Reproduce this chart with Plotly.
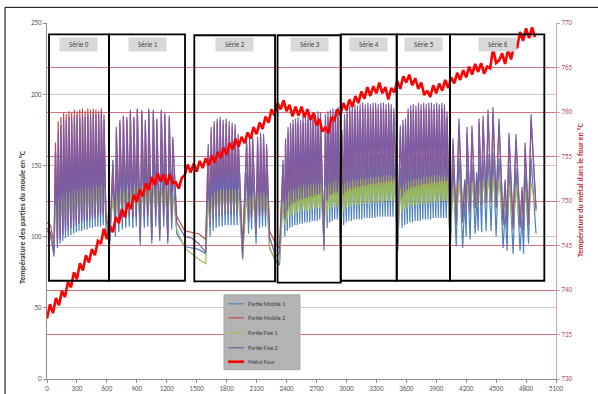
import plotly.graph_objects as go

# ---------------- mould temperatures (°C, left axis) ----------------
t_moule = [
    0, 35, 70,
    85, 105, 112, 132, 139, 159, 166, 186, 193, 213, 220, 240, 247, 267, 274, 294, 301, 321,
    328, 348, 355, 375, 382, 402, 409, 429, 436, 456, 463, 483, 490, 510, 517, 537, 544, 564, 571, 591, 630,
    660, 685, 695, 720, 730, 755, 765, 790, 800, 825, 835, 860, 870, 895, 905, 935, 950, 975, 985, 1010,
    1020, 1050, 1065, 1090, 1100, 1130, 1145, 1170, 1180, 1210, 1225, 1250, 1260,
    1300, 1380, 1450, 1520, 1590,
    1615, 1635, 1645, 1665, 1675, 1695, 1705, 1725, 1735, 1755, 1765, 1785, 1795, 1815, 1825, 1845,
    1855, 1875, 1885, 1905, 1915, 1960,
    2000, 2020, 2030, 2050, 2060, 2095, 2110, 2130, 2140, 2160, 2170, 2190, 2200, 2230, 2290, 2330,
    2365, 2383, 2390, 2408, 2415, 2433, 2440, 2458, 2465, 2483, 2490, 2508, 2515, 2533, 2540, 2558,
    2565, 2583, 2590, 2608, 2615, 2633, 2640, 2658, 2665, 2683, 2690, 2708, 2715, 2733, 2740, 2775,
    2790, 2808, 2815, 2833, 2840, 2858, 2865, 2883, 2890, 2908, 2915, 2940,
    2955, 2973, 2981, 2999, 3007, 3025, 3033, 3051, 3059, 3077, 3085, 3103, 3111, 3129, 3137, 3155,
    3163, 3181, 3189, 3207, 3215, 3233, 3241, 3259, 3267, 3285, 3293, 3311, 3319, 3337, 3345, 3363,
    3371, 3389, 3397, 3415, 3423, 3441, 3449, 3467, 3475, 3515,
    3540, 3558, 3566, 3584, 3592, 3610, 3618, 3636, 3644, 3662, 3670, 3688, 3696, 3714, 3722, 3740,
    3748, 3766, 3774, 3792, 3800, 3818, 3826, 3844, 3852, 3870, 3878, 3896, 3904, 3922, 3930, 3948,
    3956, 3974, 3982, 4000, 4008, 4040,
    4068, 4100, 4128, 4165, 4185, 4200, 4208, 4240, 4258, 4290, 4305, 4320, 4329, 4355, 4369, 4400,
    4419, 4450, 4469, 4500, 4529, 4570, 4590, 4610, 4629, 4670, 4699, 4740, 4760, 4775, 4790, 4825,
    4850, 4900,
]

partie_mobile_1 = [
    104, 102, 86,
    140, 92, 148, 95, 152, 97, 154, 99, 155, 100, 156, 101, 156, 102, 157, 103, 157, 104,
    158, 104, 158, 105, 158, 105, 159, 106, 159, 106, 159, 107, 160, 107, 160, 107, 160, 108, 158, 106, 95,
    140, 100, 150, 103, 154, 105, 156, 106, 156, 107, 158, 106, 157, 107, 159, 94, 158, 106, 156, 107,
    159, 95, 158, 107, 156, 97, 158, 107, 157, 95, 156, 105, 148,
    102, 93, 92, 91, 88,
    140, 100, 148, 104, 151, 106, 152, 107, 153, 107, 153, 108, 153, 108, 152, 108,
    152, 108, 151, 108, 148, 84,
    145, 102, 146, 105, 147, 95, 147, 106, 148, 107, 148, 107, 144, 92, 83, 80,
    138, 100, 145, 104, 148, 106, 150, 107, 151, 108, 152, 108, 152, 109, 153, 109,
    153, 110, 154, 110, 154, 110, 154, 111, 155, 111, 155, 111, 155, 112, 155, 90,
    150, 106, 153, 110, 154, 111, 155, 112, 155, 112, 155, 92,
    150, 108, 153, 110, 155, 111, 155, 111, 156, 112, 156, 112, 156, 112, 157, 112,
    157, 113, 157, 113, 157, 113, 158, 113, 158, 113, 158, 114, 158, 114, 158, 114,
    158, 114, 158, 114, 158, 114, 158, 114, 155, 90,
    148, 106, 152, 108, 153, 109, 154, 110, 155, 110, 156, 111, 156, 111, 156, 111,
    157, 112, 157, 112, 157, 112, 157, 112, 158, 113, 158, 113, 158, 113, 158, 113,
    158, 113, 158, 113, 155, 90,
    150, 93, 155, 92, 125, 100, 150, 98, 152, 102, 128, 104, 155, 103, 156, 104,
    158, 104, 159, 100, 155, 92, 118, 90, 150, 88, 148, 90, 115, 88, 145, 95,
    155, 102,
]

partie_mobile_2 = [
    110, 108, 95,
    166, 100, 181, 103, 184, 106, 187, 108, 186, 109, 188, 110, 187, 111, 189, 112, 188, 112,
    189, 113, 190, 114, 188, 114, 190, 115, 189, 115, 190, 116, 189, 116, 188, 117, 190, 117, 186, 115, 102,
    150, 108, 174, 112, 180, 114, 184, 115, 182, 116, 187, 115, 183, 116, 189, 101, 187, 115, 180, 116,
    188, 102, 188, 116, 181, 104, 188, 116, 185, 101, 183, 114, 168,
    114, 104, 103, 102, 98,
    160, 111, 173, 115, 178, 117, 180, 118, 181, 118, 179, 119, 180, 119, 178, 119,
    177, 119, 176, 119, 168, 92,
    165, 113, 166, 116, 168, 105, 167, 117, 170, 118, 169, 118, 162, 104, 95, 92,
    150, 110, 165, 116, 173, 119, 176, 121, 178, 122, 179, 123, 180, 124, 178, 124,
    181, 125, 180, 125, 182, 126, 181, 126, 183, 127, 182, 127, 184, 128, 183, 97,
    182, 123, 184, 127, 185, 128, 186, 129, 185, 129, 187, 103,
    171, 128, 182, 130, 186, 131, 188, 132, 188, 132, 189, 133, 188, 133, 189, 134,
    190, 134, 189, 134, 190, 135, 189, 135, 190, 135, 190, 136, 189, 136, 190, 136,
    190, 136, 189, 137, 190, 137, 189, 137, 186, 98,
    174, 126, 178, 129, 179, 131, 186, 132, 188, 133, 189, 133, 188, 134, 190, 134,
    189, 135, 190, 135, 189, 135, 190, 136, 190, 136, 189, 136, 190, 136, 189, 137,
    190, 137, 189, 137, 184, 98,
    165, 112, 178, 114, 138, 120, 172, 118, 174, 122, 140, 124, 180, 124, 181, 125,
    185, 126, 187, 122, 179, 112, 138, 110, 169, 110, 168, 110, 132, 108, 162, 112,
    182, 118,
]

partie_fixe_1 = [
    100, 99, 92,
    122, 104, 127, 108, 129, 110, 130, 112, 131, 113, 132, 114, 132, 115, 133, 116, 133, 116,
    134, 117, 134, 117, 134, 118, 135, 118, 135, 119, 135, 119, 136, 119, 136, 120, 136, 120, 135, 119, 107,
    125, 110, 130, 114, 132, 116, 133, 117, 133, 117, 134, 117, 134, 118, 135, 108, 135, 117, 134, 118,
    135, 108, 135, 118, 134, 110, 135, 118, 135, 108, 134, 116, 130,
    105, 92, 88, 84, 81,
    124, 110, 129, 114, 131, 115, 132, 116, 133, 117, 133, 117, 133, 118, 133, 118,
    133, 118, 133, 118, 131, 88,
    127, 112, 129, 115, 130, 105, 130, 116, 131, 117, 131, 117, 129, 92, 84, 82,
    125, 108, 130, 112, 132, 114, 133, 115, 134, 116, 134, 117, 135, 117, 135, 118,
    136, 118, 136, 118, 136, 119, 137, 119, 137, 119, 137, 120, 138, 120, 138, 96,
    135, 115, 137, 119, 138, 120, 138, 121, 139, 121, 139, 98,
    136, 118, 138, 120, 139, 121, 139, 121, 140, 122, 140, 122, 140, 122, 141, 123,
    141, 123, 141, 123, 141, 123, 142, 124, 142, 124, 142, 124, 142, 124, 142, 124,
    143, 125, 143, 125, 143, 125, 143, 125, 142, 95,
    134, 116, 137, 119, 138, 120, 139, 121, 140, 121, 140, 122, 141, 122, 141, 123,
    141, 123, 142, 123, 142, 123, 142, 124, 142, 124, 143, 124, 143, 124, 143, 125,
    143, 125, 143, 125, 142, 95,
    135, 112, 138, 115, 132, 118, 137, 118, 138, 120, 135, 121, 139, 122, 140, 122,
    141, 123, 141, 120, 139, 110, 130, 106, 136, 106, 135, 108, 128, 105, 133, 110,
    138, 118,
]

partie_fixe_2 = [
    106, 103, 88,
    160, 95, 172, 98, 178, 101, 181, 103, 182, 104, 184, 106, 181, 107, 184, 108, 185, 109,
    183, 110, 186, 111, 184, 111, 186, 112, 185, 113, 187, 113, 186, 114, 185, 114, 188, 115, 182, 112, 97,
    154, 105, 177, 110, 182, 112, 185, 113, 184, 114, 189, 113, 184, 114, 190, 97, 189, 113, 182, 114,
    190, 98, 189, 114, 183, 100, 189, 114, 187, 97, 185, 112, 170,
    110, 100, 99, 95, 89,
    165, 108, 177, 112, 181, 114, 183, 115, 184, 115, 182, 116, 183, 116, 181, 116,
    180, 116, 179, 116, 172, 86,
    169, 110, 169, 113, 171, 102, 170, 114, 173, 115, 172, 115, 165, 100, 86, 88,
    154, 112, 169, 118, 177, 121, 180, 123, 182, 124, 183, 125, 184, 126, 182, 126,
    185, 127, 184, 127, 186, 128, 185, 128, 187, 129, 186, 129, 188, 130, 187, 94,
    186, 125, 188, 129, 189, 130, 190, 131, 189, 131, 191, 100,
    175, 130, 186, 132, 190, 133, 192, 134, 192, 134, 193, 135, 192, 135, 193, 136,
    194, 136, 193, 136, 194, 137, 193, 137, 194, 137, 194, 138, 193, 138, 194, 138,
    194, 138, 193, 139, 194, 139, 193, 139, 190, 93,
    178, 128, 182, 131, 183, 133, 190, 134, 192, 135, 193, 135, 192, 136, 194, 136,
    193, 137, 194, 137, 193, 137, 194, 138, 194, 138, 193, 138, 194, 138, 193, 139,
    194, 139, 193, 139, 188, 93,
    169, 108, 183, 110, 140, 118, 177, 115, 178, 120, 145, 122, 183, 122, 185, 123,
    189, 124, 191, 120, 183, 108, 140, 105, 173, 105, 172, 106, 135, 104, 166, 108,
    186, 120,
]

# ---------------- furnace metal temperature (°C, right axis), one reading every 30 s ----------------
t_four = list(range(0, 4900, 30))
metal_four = [
    736.8, 738.4, 737.4, 739.1, 738.3, 739.9, 739.2, 740.9, 740.3, 742.0,
    741.2, 743.0, 742.2, 743.9, 743.1, 744.6, 743.9, 745.5, 745.2, 746.9,
    745.7, 747.2, 746.5, 748.2, 747.5, 749.1, 748.2, 749.8, 749.1, 750.7,
    749.9, 751.3, 750.5, 752.0, 751.2, 752.7, 751.8, 753.1, 752.2, 753.0,
    751.8, 753.0, 752.0, 752.1, 751.4, 752.6, 752.9, 754.1, 753.2, 754.2,
    753.3, 754.5, 753.7, 754.8, 754.0, 755.1, 754.3, 755.5, 754.8, 756.0,
    755.2, 756.5, 755.8, 757.0, 756.1, 757.2, 756.5, 757.7, 757.0, 758.3,
    757.5, 758.8, 758.1, 759.5, 758.8, 760.3, 759.6, 761.0, 760.3, 761.3,
    760.1, 760.8, 759.5, 760.6, 759.6, 760.6, 759.4, 760.3, 759.1, 759.9,
    758.5, 759.2, 757.8, 758.3, 757.6, 759.4, 759.1, 760.3, 759.7, 761.0,
    760.2, 761.4, 760.6, 761.8, 761.0, 762.3, 761.5, 762.8, 761.8, 762.9,
    762.1, 763.3, 762.1, 762.8, 761.4, 762.7, 762.2, 763.5, 762.6, 764.0,
    763.3, 764.2, 763.0, 763.8, 762.6, 763.3, 761.9, 762.4, 761.7, 763.0,
    762.1, 763.2, 762.4, 763.6, 762.7, 763.9, 763.2, 764.4, 763.6, 764.7,
    763.9, 765.1, 764.2, 765.4, 764.5, 765.5, 764.3, 765.1, 764.9, 767.1,
    765.5, 765.8, 766.6, 765.4, 767.0, 765.9, 767.5, 767.2, 769.0, 768.0,
    769.4, 768.3, 769.5, 768.4,
]

# ---------------- production series (boxes) ----------------
serie_noms = ["Série 0", "Série 1", "Série 2", "Série 3", "Série 4", "Série 5", "Série 6"]
serie_debut = [20, 621, 1476, 2310, 2943, 3504, 4038]
serie_fin = [621, 1383, 2285, 2943, 3504, 4038, 4983]
serie_bas = [69, 69, 68.5, 67.7, 69, 69, 69]
serie_haut = [242, 242, 241.4, 241.4, 242, 242, 242]

legende_noms = ["Partie Mobile 1", "Partie Mobile 2", "Partie Fixe 1", "Partie Fixe 2", "Métal Four"]

x_ticks = list(range(0, 5101, 300))
y_ticks = [0, 50, 100, 150, 200, 250]
y2_ticks = [730, 735, 740, 745, 750, 755, 760, 765, 770]

n = len(t_moule)
for s in (partie_mobile_1, partie_mobile_2, partie_fixe_1, partie_fixe_2):
    assert len(s) == n, (len(s), n)
assert len(metal_four) == len(t_four), (len(metal_four), len(t_four))

FONT = "Carlito, 'Liberation Sans Narrow', 'Liberation Sans', Arial, sans-serif"
couleurs = ["#4F81BD", "#C0504D", "#9BBB59", "#7A5CA8", "#FF0000"]
largeurs = [1.2, 1.2, 1.2, 1.2, 2.6]

fig = go.Figure()
for name, vals, color, w in zip(legende_noms[:4],
                                [partie_mobile_1, partie_mobile_2, partie_fixe_1, partie_fixe_2],
                                couleurs[:4], largeurs[:4]):
    fig.add_trace(go.Scatter(x=t_moule, y=vals, mode="lines", name=name,
                             line=dict(color=color, width=w)))
fig.add_trace(go.Scatter(x=t_four, y=metal_four, mode="lines", name=legende_noms[4],
                         yaxis="y2", line=dict(color=couleurs[4], width=largeurs[4])))

shapes = []
annotations = []
for nom, x0, x1, y0, y1 in zip(serie_noms, serie_debut, serie_fin, serie_bas, serie_haut):
    shapes.append(dict(type="rect", xref="x", yref="y", x0=x0, x1=x1, y0=y0, y1=y1,
                       line=dict(color="#000000", width=1.8), layer="above"))
    annotations.append(dict(x=(x0 + x1) / 2, y=235, xref="x", yref="y",
                            text="\u2003" + nom + "\u2003",
                            showarrow=False, bgcolor="#d9d9d9", borderpad=2,
                            font=dict(size=7, color="#404040", family=FONT)))

# chart frame (left and top edges visible)
shapes.append(dict(type="line", xref="paper", yref="paper", x0=-0.0825, x1=-0.0825,
                   y0=-0.2, y1=1.044, line=dict(color="#000000", width=1)))
shapes.append(dict(type="line", xref="paper", yref="paper", x0=-0.0825, x1=1.2,
                   y0=1.044, y1=1.044, line=dict(color="#000000", width=1)))

# legend box (drawn by hand so its rows are as compact as the original)
shapes.append(dict(type="rect", xref="paper", yref="paper", x0=0.3477, x1=0.497,
                   y0=0.026, y1=0.2364, fillcolor="#b3b3b3",
                   line=dict(color="#a6a6a6", width=1), layer="above"))
legende_y = [0.2112, 0.1719, 0.1298, 0.0878, 0.0485]
for nom, yy, c, w in zip(legende_noms, legende_y, couleurs, largeurs):
    shapes.append(dict(type="line", xref="paper", yref="paper", x0=0.3556, x1=0.387,
                       y0=yy, y1=yy, line=dict(color=c, width=w), layer="above"))
    annotations.append(dict(x=0.391, y=yy, xref="paper", yref="paper", text=nom,
                            xanchor="left", yanchor="middle", showarrow=False,
                            font=dict(size=6, color="#404040", family=FONT)))

annotations.append(dict(x=-0.063, y=0.455, xref="paper", yref="paper",
                        text="<b>Température des parties du moule en °C</b>", textangle=-90,
                        showarrow=False, font=dict(size=8, color="#404040", family=FONT)))
annotations.append(dict(x=1.061, y=0.531, xref="paper", yref="paper",
                        text="<b>Température du métal dans le four en °C</b>", textangle=-90,
                        showarrow=False, font=dict(size=8, color="#C0303A", family=FONT)))

fig.update_layout(
    width=598, height=394,
    margin=dict(l=47, r=42, t=23, b=15, autoexpand=False),
    paper_bgcolor="white", plot_bgcolor="white",
    font=dict(family=FONT, size=7, color="#595959"),
    showlegend=False,
    xaxis=dict(range=[0, 5100], tickvals=x_ticks, showgrid=False, zeroline=False,
               showline=True, linecolor="#8c8c8c", linewidth=1, ticks="outside",
               ticklen=3, tickcolor="#8c8c8c", tickfont=dict(size=7, color="#595959"),
               automargin=False),
    yaxis=dict(range=[0, 250], tickvals=y_ticks, showgrid=True, gridcolor="#c8c8c8",
               gridwidth=1, zeroline=False, showline=True, linecolor="#8c8c8c",
               ticks="outside", ticklen=3, tickcolor="#8c8c8c",
               tickfont=dict(size=7, color="#595959"), automargin=False),
    yaxis2=dict(range=[730, 770], tickvals=y2_ticks, overlaying="y", side="right",
                showgrid=True, gridcolor="#d9707c", gridwidth=1, zeroline=False,
                showline=True, linecolor="#d9a0a8", ticks="outside", ticklen=3,
                tickcolor="#d9a0a8", tickfont=dict(size=7, color="#B0505A"),
                automargin=False),
    shapes=shapes,
    annotations=annotations,
)

fig.write_html("out.html", config={"displayModeBar": False},
               post_script="document.body.style.margin='0';document.body.style.overflow='hidden';")
